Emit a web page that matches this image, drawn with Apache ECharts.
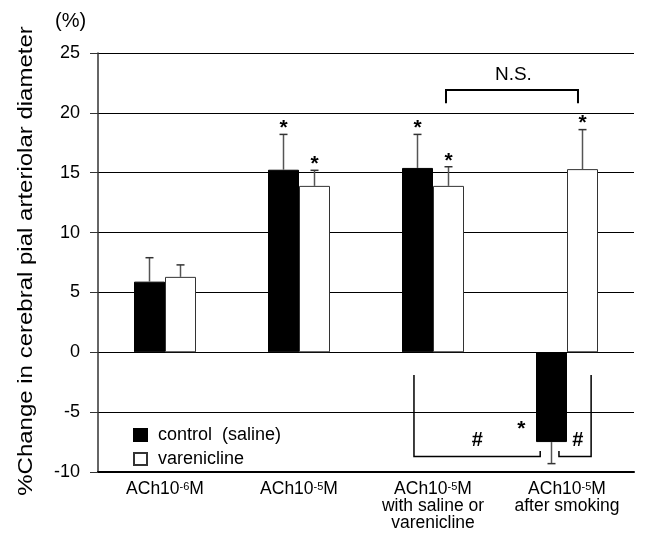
<!DOCTYPE html>
<html>
<head>
<meta charset="utf-8">
<script src="https://cdn.jsdelivr.net/npm/echarts@6/dist/echarts.min.js"></script>
<style>
  html, body { margin: 0; padding: 0; background: #fff; }
  #chart { width: 645px; height: 537px; }
</style>
</head>
<body>
<div id="chart"></div>
<script>
// data
const categories = ['ACh10-6M', 'ACh10-5M', 'ACh10-5M\nwith saline or\nvarenicline', 'ACh10-5M\nafter smoking']
const seriesNames = ['control  (saline)', 'varenicline']
const controlValues = [5.9, 15.25, 15.4, -7.5]
const controlErrors = [2.0, 2.95, 2.8, 1.8]
const controlStars = [0, 1, 1, 0]
const vareniclineValues = [6.3, 13.9, 13.9, 15.3]
const vareniclineErrors = [1.0, 1.3, 1.6, 3.3]
const vareniclineStars = [0, 1, 1, 1]
const yTicks = [-10, -5, 0, 5, 10, 15, 20, 25]
const yTitle = '%Change in cerebral pial arteriolar diameter'

// significance brackets (x in category units, y in % units)
const bracketLines = [
  [[2.097, 20.8], [2.097, 21.9], [3.082, 21.9], [3.082, 20.8]],
  [[1.858, -1.9], [1.858, -8.7], [2.8, -8.7], [2.8, -8.25]],
  [[2.94, -8.25], [2.94, -8.7], [3.18, -8.7], [3.18, -1.9]]
]
const noteTexts = ['N.S.', '#', '#', '*']
const noteX = [2.6, 2.33, 3.08, 2.66]
const noteY = [23.2, -7.4, -7.4, -6.4]

const BAR_W = 31
const FONT = '"Liberation Sans", Arial, sans-serif'

const chart = echarts.init(document.getElementById('chart'))

function labelFormatter(value) {
  return value.split('\n').map(line => {
    const m = line.match(/^ACh10(-\d)M$/)
    if (m) return '{b|ACh10}{sup|' + m[1] + '}{b|M}'
    return '{b|' + line + '}'
  }).join('\n')
}

function errorSeries(values, errs, stars, side) {
  return {
    type: 'custom',
    xAxisIndex: 0,
    yAxisIndex: 0,
    z: 5,
    silent: true,
    data: values.map((v, i) => [i, v, errs[i], stars[i]]),
    encode: { x: 0, y: 1 },
    renderItem(params, api) {
      const i = api.value(0)
      const v = api.value(1)
      const e = api.value(2)
      const dir = v < 0 ? -1 : 1
      const base = api.coord([i, v])
      const tip = api.coord([i, v + dir * e])
      const x = base[0] + side * BAR_W / 2
      const children = [
        { type: 'line', shape: { x1: x, y1: base[1], x2: x, y2: tip[1] }, style: { stroke: '#555', lineWidth: 1.5 } },
        { type: 'line', shape: { x1: x - 4, y1: tip[1], x2: x + 4, y2: tip[1] }, style: { stroke: '#333', lineWidth: 1.5 } }
      ]
      if (api.value(3)) {
        children.push({
          type: 'text',
          style: { text: '*', x: x, y: tip[1] - 6, align: 'center', verticalAlign: 'middle', fontSize: 21, fontWeight: 'bold', fontFamily: FONT, fill: '#000' }
        })
      }
      return { type: 'group', children }
    }
  }
}

const option = {
  animation: false,
  backgroundColor: '#fff',
  grid: { left: 98, right: 11, top: 53, bottom: 65 },
  legend: {
    orient: 'vertical',
    left: 128,
    top: 421,
    icon: 'rect',
    itemWidth: 13,
    itemHeight: 12,
    itemGap: 6,
    data: seriesNames,
    textStyle: { fontSize: 18, fontFamily: FONT, color: '#000', padding: [0, 0, 0, 6] }
  },
  xAxis: [
    {
      type: 'category',
      data: categories,
      axisLine: { onZero: false, lineStyle: { color: '#000', width: 2 } },
      axisTick: { show: false },
      axisLabel: {
        interval: 0,
        margin: 9,
        color: '#000',
        formatter: labelFormatter,
        rich: {
          b: { fontSize: 17.5, fontFamily: FONT, color: '#000', lineHeight: 17 },
          sup: { fontSize: 11, fontFamily: FONT, color: '#000', lineHeight: 14, verticalAlign: 'top' }
        }
      }
    },
    { type: 'value', min: -0.5, max: 3.5, show: false }
  ],
  yAxis: {
    type: 'value',
    min: -10,
    max: 25,
    interval: 5,
    axisLine: { show: true, onZero: false, lineStyle: { color: '#333', width: 1.5 } },
    axisTick: { show: true, length: 8, lineStyle: { color: '#333' } },
    axisLabel: {
      margin: 18,
      fontSize: 18,
      fontFamily: FONT,
      color: '#000',
      formatter: v => yTicks.includes(v) ? String(v) : ''
    },
    splitLine: { show: true, lineStyle: { color: '#000', width: 1 } }
  },
  graphic: [
    { type: 'text', left: 55, top: 11, style: { text: '(%)', fontSize: 20, fontFamily: FONT, fill: '#000' } },
    {
      type: 'text', x: 26, y: 261, rotation: Math.PI / 2, scaleX: 1.2,
      style: { text: yTitle, align: 'center', verticalAlign: 'middle', fontSize: 20, fontFamily: FONT, fill: '#000' }
    }
  ],
  series: [
    {
      name: seriesNames[0],
      type: 'bar',
      data: controlValues,
      barWidth: BAR_W,
      barGap: '0%',
      itemStyle: { color: '#000', borderColor: '#000', borderWidth: 1 }
    },
    {
      name: seriesNames[1],
      type: 'bar',
      data: vareniclineValues,
      barWidth: BAR_W,
      barGap: '0%',
      itemStyle: { color: '#fff', borderColor: '#333', borderWidth: 1 }
    },
    errorSeries(controlValues, controlErrors, controlStars, -1),
    errorSeries(vareniclineValues, vareniclineErrors, vareniclineStars, 1),
    {
      type: 'custom',
      xAxisIndex: 1,
      yAxisIndex: 0,
      z: 6,
      silent: true,
      data: bracketLines.map((b, i) => [b[0][0], b[0][1], i]),
      renderItem(params, api) {
        const pts = bracketLines[params.dataIndex].map(p => api.coord(p))
        return { type: 'polyline', shape: { points: pts }, style: { stroke: '#000', lineWidth: params.dataIndex === 0 ? 2 : 1.5, fill: null } }
      }
    },
    {
      type: 'custom',
      xAxisIndex: 1,
      yAxisIndex: 0,
      z: 6,
      silent: true,
      data: noteX.map((x, i) => [x, noteY[i]]),
      renderItem(params, api) {
        const p = api.coord([api.value(0), api.value(1)])
        const t = noteTexts[params.dataIndex]
        const isNS = t === 'N.S.'
        return {
          type: 'text',
          style: {
            text: t, x: p[0], y: p[1], align: 'center', verticalAlign: 'middle',
            fontSize: isNS ? 19 : (t === '*' ? 21 : 20), fontWeight: isNS ? 'normal' : 'bold',
            fontFamily: FONT, fill: '#000'
          }
        }
      }
    }
  ]
}

chart.setOption(option)
</script>
</body>
</html>
